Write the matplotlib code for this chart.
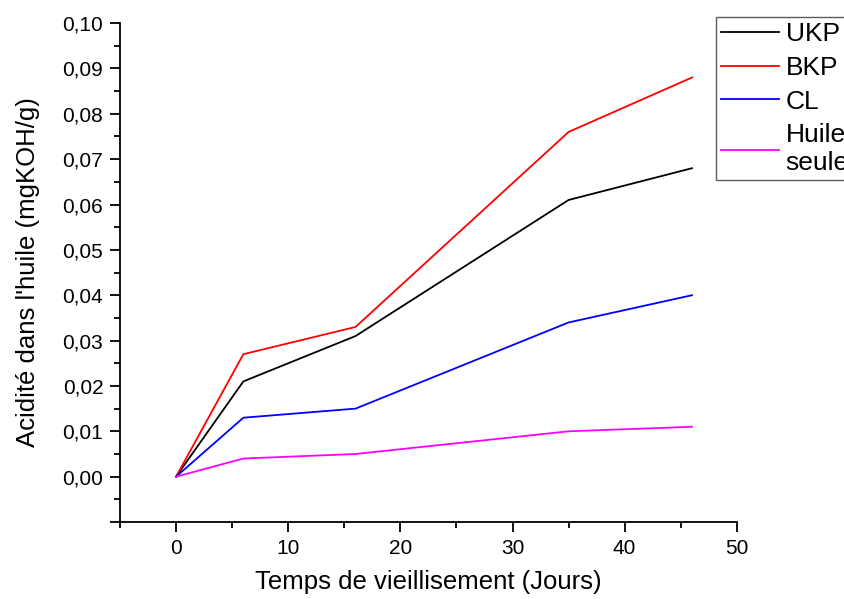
import matplotlib.pyplot as plt
from matplotlib.ticker import MultipleLocator, FuncFormatter

plt.rcParams['font.family'] = ['Liberation Sans', 'DejaVu Sans']

# Données
jours = [0, 6, 16, 35, 46]
ukp = [0, 0.021, 0.031, 0.061, 0.068]
bkp = [0, 0.027, 0.033, 0.076, 0.088]
cl = [0, 0.013, 0.015, 0.034, 0.040]
huile = [0, 0.004, 0.005, 0.010, 0.011]

fig = plt.figure(figsize=(8.45, 5.99), dpi=100)
ax = fig.add_axes([0.142, 0.1285, 0.730, 0.833])

l1, = ax.plot(jours, ukp, color='black', lw=1.3)
l2, = ax.plot(jours, bkp, color='red', lw=1.3)
l3, = ax.plot(jours, cl, color='blue', lw=1.3)
l4, = ax.plot(jours, huile, color='magenta', lw=1.3)

ax.set_xlim(-5, 50)
ax.set_ylim(-0.01, 0.10)
ax.xaxis.set_major_locator(MultipleLocator(10))
ax.xaxis.set_minor_locator(MultipleLocator(5))
ax.yaxis.set_major_locator(MultipleLocator(0.01))
ax.yaxis.set_minor_locator(MultipleLocator(0.005))
ax.yaxis.set_major_formatter(FuncFormatter(lambda v, p: f'{v:.2f}'.replace('.', ',') if v > -0.005 else ''))
ax.xaxis.set_major_formatter(FuncFormatter(lambda v, p: f'{v:.0f}' if v >= 0 else ''))

for s in ['top', 'right']:
    ax.spines[s].set_visible(False)
for s in ['left', 'bottom']:
    ax.spines[s].set_linewidth(1.3)
ax.tick_params(which='major', direction='out', length=7, width=1.3, labelsize=15, pad=5)
ax.tick_params(which='minor', direction='out', length=4, width=1.3)

ax.set_xlabel('Temps de vieillisement (Jours)', fontsize=18.5, labelpad=9)
ax.set_ylabel("Acidité dans l'huile (mgKOH/g)", fontsize=18.5, labelpad=16)

leg = fig.legend([l1, l2, l3, l4], ['UKP', 'BKP', 'CL', 'Huile\nseule'],
                 loc='upper left', bbox_to_anchor=(0.847, 0.972), fontsize=19,
                 frameon=True, fancybox=False, edgecolor='#333333',
                 borderpad=0.2, handlelength=2.2, handletextpad=0.25,
                 labelspacing=0.37, borderaxespad=0)
leg.get_frame().set_linewidth(1.0)
for t in leg.get_texts():
    t.set_linespacing(1.2)

plt.savefig('out.png', dpi=100)
